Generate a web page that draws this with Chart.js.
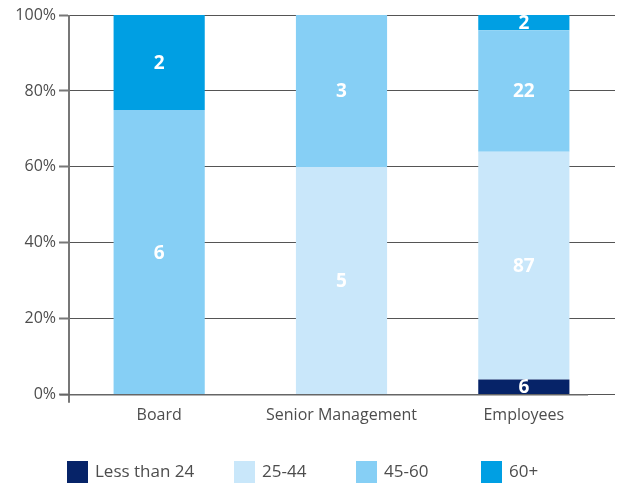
<!DOCTYPE html>
<html>
<head>
<meta charset="utf-8">
<script src="https://cdn.jsdelivr.net/npm/chart.js@4.4.1/dist/chart.umd.min.js"></script>
<style>
  html, body { margin: 0; padding: 0; background: #fff; }
  #wrap { width: 618px; height: 486px; }
</style>
</head>
<body>
<div id="wrap"><canvas id="ageChart" width="618" height="486"></canvas></div>
<script>
// categories and series (share of each bar, in %)
const categories = ['Board', 'Senior Management', 'Employees'];
const seriesNames = ['Less than 24', '25-44', '45-60', '60+'];
const pctLess24 = [0, 0, 4];
const pct25to44 = [0, 60, 60];
const pct45to60 = [75, 40, 32];
const pct60plus = [25, 0, 4];
// head counts written on the segments
const cntLess24 = [0, 0, 6];
const cnt25to44 = [0, 5, 87];
const cnt45to60 = [6, 3, 22];
const cnt60plus = [2, 0, 2];
const yTicks = [0, 20, 40, 60, 80, 100];

const colors = ['#062368', '#c9e7fa', '#86cff5', '#009fe3'];
const FONT = '"Open Sans", sans-serif';
const TEXT = '#4d4d4d';

// Draw the counts in the middle of every segment
const segmentLabels = {
  id: 'segmentLabels',
  afterDatasetsDraw(chart) {
    const ctx = chart.ctx;
    ctx.save();
    ctx.fillStyle = '#fff';
    ctx.font = 'bold 19px ' + FONT;
    ctx.textAlign = 'center';
    ctx.textBaseline = 'middle';
    chart.data.datasets.forEach((ds, i) => {
      chart.getDatasetMeta(i).data.forEach((bar, j) => {
        const n = ds.counts[j];
        if (!n) return;
        ctx.fillText(String(n), bar.x, (bar.y + bar.base) / 2 + 1);
      });
    });
    ctx.restore();
  }
};

// Axis lines: y axis runs a little below zero, x axis starts left of it
const axisLines = {
  id: 'axisLines',
  afterDraw(chart) {
    const { ctx, chartArea } = chart;
    const y0 = chart.scales.y.getPixelForValue(0);
    ctx.save();
    ctx.strokeStyle = '#777';
    ctx.lineWidth = 2;
    ctx.beginPath();
    ctx.moveTo(chartArea.left + 1, chartArea.top);
    ctx.lineTo(chartArea.left + 1, y0 + 8);
    ctx.stroke();
    ctx.strokeStyle = '#666';
    ctx.lineWidth = 1.5;
    ctx.beginPath();
    ctx.moveTo(chartArea.left - 8, y0);
    ctx.lineTo(chartArea.right - 27, y0);
    ctx.stroke();
    ctx.restore();
  }
};

// Legend in a row under the axis (columns like the original)
const legendX = [67, 234, 356, 481];
const bottomLegend = {
  id: 'bottomLegend',
  afterDraw(chart) {
    const ctx = chart.ctx;
    const top = 461;
    ctx.save();
    ctx.font = '17px ' + FONT;
    ctx.textBaseline = 'middle';
    chart.data.datasets.forEach((ds, i) => {
      ctx.fillStyle = ds.backgroundColor;
      ctx.fillRect(legendX[i], top, 21, 22);
      ctx.fillStyle = TEXT;
      ctx.fillText(ds.label, legendX[i] + 28, top + 11);
    });
    ctx.restore();
  }
};

const mk = (i, pct, cnt) => ({
  label: seriesNames[i],
  data: pct,
  counts: cnt,
  backgroundColor: colors[i],
  borderWidth: 0,
  barPercentage: 0.5,
  categoryPercentage: 1.0
});

new Chart(document.getElementById('ageChart').getContext('2d'), {
  type: 'bar',
  data: {
    labels: categories,
    datasets: [
      mk(0, pctLess24, cntLess24),
      mk(1, pct25to44, cnt25to44),
      mk(2, pct45to60, cnt45to60),
      mk(3, pct60plus, cnt60plus)
    ]
  },
  options: {
    responsive: false,
    animation: false,
    devicePixelRatio: 1,
    layout: { padding: { top: 15, right: 3, left: 0, bottom: 50 } },
    plugins: {
      tooltip: { enabled: false },
      legend: { display: false }
    },
    scales: {
      x: {
        stacked: true,
        grid: { display: false, drawTicks: false },
        border: { display: false },
        ticks: { color: TEXT, font: { family: FONT, size: 16 }, padding: 11 }
      },
      y: {
        stacked: true,
        min: 0,
        max: 100,
        afterBuildTicks(axis) { axis.ticks = yTicks.map(v => ({ value: v })); },
        afterFit(axis) { axis.width = 68; },
        grid: {
          color: '#555',
          lineWidth: 1,
          borderDash: [1, 2],
          drawTicks: true,
          tickLength: 9,
          tickColor: '#777',
          tickWidth: 2,
          tickBorderDash: []
        },
        border: { display: false },
        ticks: {
          color: TEXT,
          font: { family: FONT, size: 16 },
          padding: 3,
          callback: v => v + '%'
        }
      }
    }
  },
  plugins: [segmentLabels, axisLines, bottomLegend]
});
</script>
</body>
</html>
